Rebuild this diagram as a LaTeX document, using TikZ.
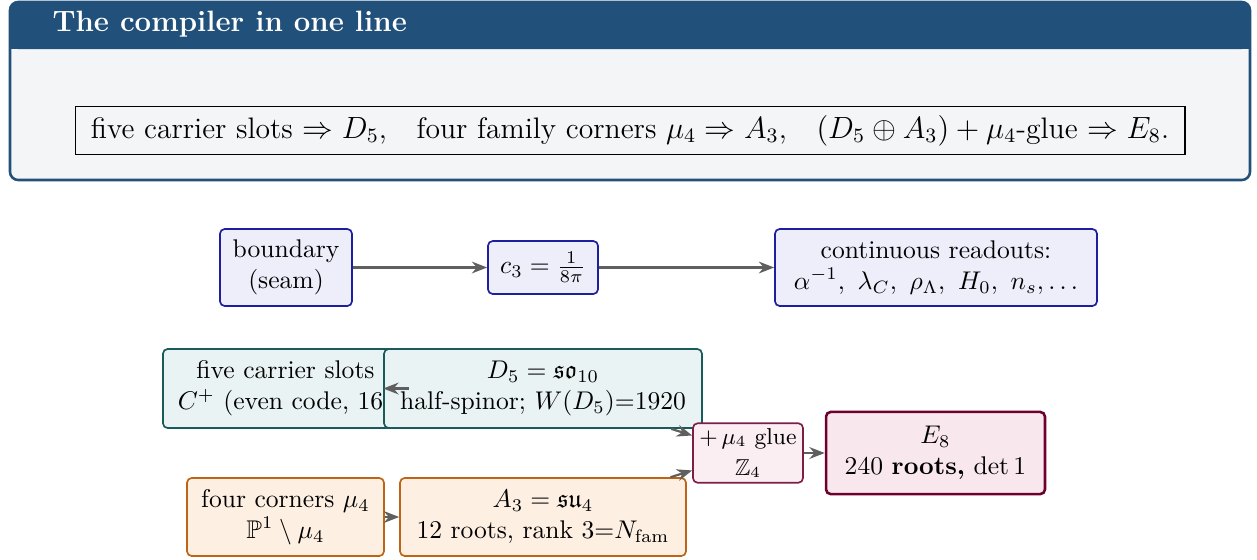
\documentclass[tikz,border=0pt]{standalone}
\usepackage{amsmath,amssymb}
\usetikzlibrary{arrows.meta}
\definecolor{hdr}{RGB}{33,80,122}
\definecolor{bodyfill}{RGB}{244,245,247}
\definecolor{bluefill}{RGB}{238,238,251}
\definecolor{blueline}{RGB}{30,30,160}
\definecolor{tealfill}{RGB}{233,243,243}
\definecolor{tealline}{RGB}{25,90,90}
\definecolor{orfill}{RGB}{253,240,227}
\definecolor{orline}{RGB}{190,100,20}
\definecolor{gluefill}{RGB}{250,238,242}
\definecolor{glueline}{RGB}{125,30,70}
\definecolor{eefill}{RGB}{248,232,238}
\definecolor{eeline}{RGB}{110,0,45}
\definecolor{arr}{RGB}{95,95,95}
\tikzset{
  box/.style={rounded corners=1.8pt, line width=0.65pt, align=center, inner sep=2pt},
  bluebox/.style={box, draw=blueline, fill=bluefill},
  tealbox/.style={box, draw=tealline, fill=tealfill},
  orbox/.style={box, draw=orline, fill=orfill},
  gluebox/.style={box, draw=glueline, fill=gluefill},
  eebox/.style={box, draw=eeline, fill=eefill, line width=1pt},
  conn/.style={draw=arr, line width=0.85pt, -{Stealth[length=6pt,width=4.6pt]}}
}
\begin{document}
\begin{tikzpicture}[x=0.391pt,y=-0.391pt]
\useasboundingbox (0,0) rectangle (1257,559);
% header panel
\fill[bodyfill, rounded corners=3.2pt] (10,2) rectangle (1250,180);
\fill[hdr, rounded corners=3.2pt] (10,2) rectangle (1250,49);
\fill[hdr] (10,30) rectangle (1250,49);
\draw[hdr, line width=1pt, rounded corners=3.2pt] (10,2) rectangle (1250,180);
\node[anchor=west, text=white, font=\bfseries\fontsize{11.5}{13.5}\selectfont, inner sep=0pt] (title) at (52,24) {The compiler in one line};
\node[draw, line width=0.4pt, fill=bodyfill, minimum width=434pt, minimum height=18.4pt, inner sep=2pt, font=\fontsize{11.6}{14}\selectfont] (formula) at (630,130.5)
  {five carrier slots $\Rightarrow D_5$,\quad four family corners $\mu_4\Rightarrow A_3$,\quad $(D_5\oplus A_3)+\mu_4$-glue $\Rightarrow E_8$.};
% top row
\node[bluebox, minimum width=51.6pt, minimum height=30.1pt] (bnd) at (286,267.5) {boundary\\(seam)};
\node[bluebox, minimum width=43pt, minimum height=20.7pt] (c3) at (543,267.5) {$c_3=\frac{1}{8\pi}$};
\node[bluebox, minimum width=125.9pt, minimum height=30.1pt] (read) at (936,267.5) {continuous readouts:\\$\alpha^{-1},\ \lambda_C,\ \rho_\Lambda,\ H_0,\ n_s,\ldots$};
% lattice part
\node[tealbox, minimum width=95.8pt, minimum height=30.9pt] (carrier) at (285.5,388.5) {five carrier slots\\$C^+$ (even code, 16)};
\node[tealbox, minimum width=124.3pt, minimum height=30.9pt] (d5) at (543,388.5) {$D_5=\mathfrak{so}_{10}$\\half-spinor; $W(D_5)$=1920};
\node[gluebox, minimum width=43pt, minimum height=22.7pt] (glue) at (748,453) {\small $+\,\mu_4$ glue\\\small $\mathbb{Z}_4$};
\node[eebox, minimum width=85.6pt, minimum height=32.1pt] (e8) at (935.5,453) {$E_8$\\240 \textbf{roots,} $\det 1$};
\node[orbox, minimum width=77pt, minimum height=30.5pt] (corners) at (285.5,517) {four corners $\mu_4$\\$\mathbb{P}^1\setminus\mu_4$};
\node[orbox, minimum width=111.8pt, minimum height=30.5pt] (a3) at (543,517) {$A_3=\mathfrak{su}_4$\\12 roots, rank 3=$N_{\mathrm{fam}}$};
% connectors
\draw[conn] (bnd) -- (c3);
\draw[conn] (c3) -- (read);
\draw[conn] (carrier.east) -- (d5.west);
\draw[conn] (d5) -- (glue);
\draw[conn] (a3) -- (glue);
\draw[conn] (corners) -- (a3);
\draw[conn] (glue) -- (e8);
\end{tikzpicture}
\end{document}
